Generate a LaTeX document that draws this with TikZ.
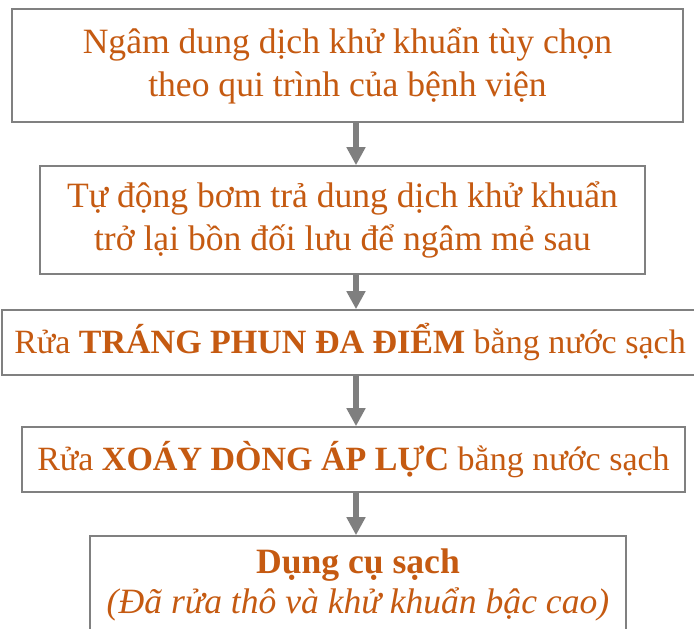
\documentclass[tikz,border=0pt]{standalone}
\usepackage{fontspec}
\setmainfont{Liberation Serif}
\usetikzlibrary{arrows.meta}
\definecolor{txt}{HTML}{C55A11}
\definecolor{frame}{HTML}{808080}
\definecolor{arrowgray}{HTML}{7F7F7F}
\begin{document}
\begin{tikzpicture}[x=1pt,y=-1pt,
  stepbox/.style={draw=frame,line width=1.6pt,fill=white,rectangle,inner sep=0pt,
    text=txt,align=center,font=\fontsize{34}{43}\selectfont},
  bigtext/.style={font=\fontsize{35.6}{43}\selectfont},
  flowarrow/.style={draw=arrowgray,line width=6pt,
    -{Triangle[width=18pt,length=18pt]},shorten >=0pt}]
\useasboundingbox (0,0) rectangle (694,629);
\node[stepbox,bigtext,minimum width=671pt,minimum height=113pt] (b1) at (347.5,65.5)
  {Ngâm dung dịch khử khuẩn tùy chọn\\theo qui trình của bệnh viện};
\node[stepbox,bigtext,minimum width=605pt,minimum height=108pt] (b2) at (342.5,220)
  {Tự động bơm trả dung dịch khử khuẩn\\trở lại bồn đối lưu để ngâm mẻ sau};
\node[stepbox,minimum width=696pt,minimum height=65pt] (b3) at (350,342.5)
  {Rửa \textbf{TRÁNG PHUN ĐA ĐIỂM} bằng nước sạch};
\node[stepbox,minimum width=663pt,minimum height=65pt] (b4) at (353.5,459.5)
  {Rửa \textbf{XOÁY DÒNG ÁP LỰC} bằng nước sạch};
\node[stepbox,minimum width=536pt,minimum height=98pt,font=\fontsize{35.6}{40}\selectfont] (b5) at (358,585)
  {\textbf{Dụng cụ sạch}\\\textit{(Đã rửa thô và khử khuẩn bậc cao)}};
\coordinate (ax) at (356,0);
\draw[flowarrow] (b1.south -| ax) -- (b2.north -| ax);
\draw[flowarrow] (b2.south -| ax) -- (b3.north -| ax);
\draw[flowarrow] (b3.south -| ax) -- (b4.north -| ax);
\draw[flowarrow] (b4.south -| ax) -- (b5.north -| ax);
\end{tikzpicture}
\end{document}
